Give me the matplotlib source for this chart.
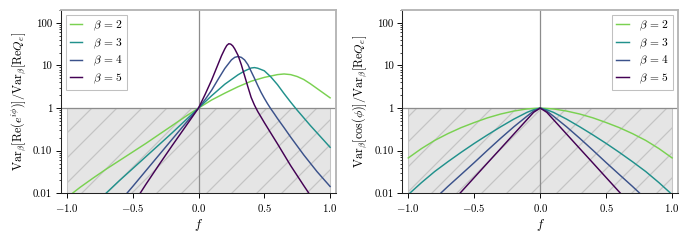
import matplotlib
matplotlib.use("Agg")
import matplotlib.pyplot as plt
from matplotlib.ticker import FixedLocator, FixedFormatter

# values
betas = [2, 3, 4, 5]
line_colors = ["#7ad151", "#21918c", "#3b528b", "#440154"]

# left panel: Var[Re(e^{i phi})] / Var[Re Q_e]
f_re_b2 = [-1.0, -0.9, -0.8, -0.7, -0.6, -0.5, -0.4, -0.3, -0.2, -0.1, 0.0,
           0.1, 0.2, 0.3, 0.4, 0.5, 0.6, 0.65, 0.7, 0.75, 0.8, 0.85, 0.9, 0.95, 1.0]
re_b2 = [0.00794, 0.0138, 0.0229, 0.0372, 0.0589, 0.0933, 0.148, 0.240, 0.389, 0.631, 1.0,
         1.549, 2.239, 3.162, 4.266, 5.248, 6.095, 6.310, 6.095, 5.495, 4.677, 3.715, 2.884, 2.239, 1.738]

f_re_b3 = [-0.8, -0.7, -0.6, -0.5, -0.4, -0.3, -0.2, -0.1, 0.0,
           0.1, 0.2, 0.3, 0.35, 0.4, 0.425, 0.45, 0.5, 0.55, 0.6, 0.65, 0.7, 0.75, 0.8, 0.85, 0.9, 0.95, 1.0]
re_b3 = [0.00537, 0.01023, 0.0200, 0.0380, 0.0724, 0.138, 0.263, 0.513, 1.0,
         1.950, 3.631, 6.026, 7.413, 8.710, 8.913, 8.610, 7.499, 5.370, 3.548, 2.188, 1.380, 0.891, 0.589, 0.389, 0.263, 0.178, 0.120]

f_re_b4 = [-0.6, -0.55, -0.5, -0.4, -0.3, -0.2, -0.1, 0.0,
           0.05, 0.1, 0.15, 0.2, 0.25, 0.275, 0.3, 0.325, 0.35, 0.375, 0.4, 0.425, 0.45, 0.475,
           0.5, 0.525, 0.55, 0.575, 0.6, 0.65, 0.7, 0.8, 0.9, 1.0]
re_b4 = [0.00631, 0.00955, 0.01445, 0.0339, 0.0794, 0.186, 0.432, 1.0,
         1.585, 2.630, 4.786, 8.511, 13.49, 15.49, 16.22, 15.49, 13.49, 10.47, 7.244, 5.012, 3.388, 2.344,
         1.698, 1.259, 0.955, 0.741, 0.569, 0.347, 0.209, 0.0794, 0.0324, 0.01445]

f_re_b5 = [-0.5, -0.45, -0.4, -0.3, -0.2, -0.1, 0.0,
           0.05, 0.1, 0.15, 0.175, 0.2, 0.215, 0.23, 0.245, 0.26, 0.275, 0.3, 0.325, 0.35, 0.375,
           0.4, 0.425, 0.45, 0.475, 0.5, 0.55, 0.6, 0.7, 0.8, 0.85, 0.9]
re_b5 = [0.00525, 0.00933, 0.0162, 0.0468, 0.132, 0.363, 1.0,
         2.089, 4.571, 10.96, 16.98, 24.55, 29.51, 32.36, 31.62, 28.84, 24.55, 17.38, 10.47, 5.754, 3.162,
         1.778, 1.175, 0.832, 0.617, 0.457, 0.257, 0.145, 0.0447, 0.0151, 0.00891, 0.00525]

# right panel: Var[cos(phi)] / Var[Re Q_e]
f_cos_b2 = [-1.0, -0.9, -0.8, -0.7, -0.6, -0.5, -0.4, -0.3, -0.2, -0.1, 0.0,
            0.1, 0.2, 0.3, 0.4, 0.5, 0.6, 0.7, 0.8, 0.9, 1.0]
cos_b2 = [0.0676, 0.112, 0.174, 0.251, 0.347, 0.457, 0.589, 0.724, 0.851, 0.955, 1.0,
          0.955, 0.851, 0.724, 0.589, 0.457, 0.347, 0.251, 0.174, 0.112, 0.0676]

f_cos_b3 = [-1.0, -0.9, -0.8, -0.7, -0.6, -0.5, -0.4, -0.3, -0.2, -0.1, -0.05, 0.0,
            0.05, 0.1, 0.2, 0.3, 0.4, 0.5, 0.6, 0.7, 0.8, 0.9, 1.0]
cos_b3 = [0.00933, 0.0178, 0.0324, 0.0550, 0.0912, 0.148, 0.234, 0.363, 0.550, 0.794, 0.912, 1.0,
          0.912, 0.794, 0.550, 0.363, 0.234, 0.148, 0.0912, 0.0550, 0.0324, 0.0178, 0.00933]

f_cos_b4 = [-0.8, -0.7, -0.6, -0.5, -0.4, -0.3, -0.2, -0.1, -0.05, 0.0,
            0.05, 0.1, 0.2, 0.3, 0.4, 0.5, 0.6, 0.7, 0.8]
cos_b4 = [0.00741, 0.01445, 0.0275, 0.0525, 0.102, 0.195, 0.363, 0.646, 0.851, 1.0,
          0.851, 0.646, 0.363, 0.195, 0.102, 0.0525, 0.0275, 0.01445, 0.00741]

f_cos_b5 = [-0.7, -0.6, -0.5, -0.4, -0.3, -0.2, -0.1, -0.05, 0.0,
            0.05, 0.1, 0.2, 0.3, 0.4, 0.5, 0.6, 0.7]
cos_b5 = [0.0049, 0.0107, 0.0234, 0.0513, 0.112, 0.245, 0.537, 0.794, 1.0,
          0.794, 0.537, 0.245, 0.112, 0.0513, 0.0234, 0.0107, 0.0049]

x_ticks = [-1.0, -0.5, 0.0, 0.5, 1.0]
x_tick_labels = ["$-1.0$", "$-0.5$", "$0.0$", "$0.5$", "$1.0$"]
y_ticks = [0.01, 0.1, 1, 10, 100]
y_tick_labels = ["0.01", "0.10", "1", "10", "100"]

ylabels = [r"$\mathrm{Var}_\beta[\mathrm{Re}(e^{i\phi})]/\mathrm{Var}_\beta[\mathrm{Re}Q_e]$",
           r"$\mathrm{Var}_\beta[\cos(\phi)]/\mathrm{Var}_\beta[\mathrm{Re}Q_e]$"]

plt.rcParams.update({
    "font.family": "serif",
    "font.serif": ["cmr10"],
    "mathtext.fontset": "cm",
    "axes.formatter.use_mathtext": True,
    "font.size": 5,
    "hatch.color": "#c4c4c4",
    "hatch.linewidth": 0.6,
})

dpi = 150
fig = plt.figure(figsize=(690 / dpi, 240 / dpi), dpi=dpi)
ax_re = fig.add_axes([0.0884, 0.1946, 0.3986, 0.7637])
ax_cos = fig.add_axes([0.5831, 0.1946, 0.3996, 0.7637])

panels = [
    (ax_re, [(f_re_b2, re_b2), (f_re_b3, re_b3), (f_re_b4, re_b4), (f_re_b5, re_b5)], "upper left"),
    (ax_cos, [(f_cos_b2, cos_b2), (f_cos_b3, cos_b3), (f_cos_b4, cos_b4), (f_cos_b5, cos_b5)], "upper right"),
]

for i, (ax, curves, loc) in enumerate(panels):
    # shaded "below 1" region
    ax.fill_between([-1.0, 1.0], 0.01, 1.0, facecolor="#e5e5e5", edgecolor="#c4c4c4",
                    hatch="//", linewidth=0.5, zorder=0)
    ax.axhline(1.0, color="#8c8c8c", lw=0.6, zorder=1)
    ax.axvline(0.0, color="#8c8c8c", lw=0.6, zorder=1)

    for (fx, vals), b, c in zip(curves, betas, line_colors):
        ax.plot(fx, vals, color=c, lw=0.7, label=r"$\beta\,=\,%d$" % b, zorder=3)

    ax.set_yscale("log")
    ax.set_xlim(-1.045, 1.045)
    ax.set_ylim(0.01, 200)
    ax.xaxis.set_major_locator(FixedLocator(x_ticks))
    ax.xaxis.set_major_formatter(FixedFormatter(x_tick_labels))
    ax.yaxis.set_major_locator(FixedLocator(y_ticks))
    ax.yaxis.set_major_formatter(FixedFormatter(y_tick_labels))
    ax.tick_params(which="major", length=2.2, width=0.45, pad=2, labelsize=5.2)
    ax.tick_params(which="minor", length=1.2, width=0.35)

    for side in ["left", "bottom"]:
        ax.spines[side].set_linewidth(0.5)
        ax.spines[side].set_color("#222222")
    for side in ["top", "right"]:
        ax.spines[side].set_linewidth(0.9)
        ax.spines[side].set_color("#b5b5b5")

    ax.set_xlabel("$f$", fontsize=6.2, labelpad=1.5)
    ax.set_ylabel(ylabels[i], fontsize=5.8, labelpad=2)

    leg = ax.legend(loc=loc, fontsize=5.5, frameon=True, fancybox=False, framealpha=1,
                    edgecolor="#c0c0c0", handlelength=1.1, handletextpad=0.9,
                    labelspacing=0.3, borderaxespad=0.4, borderpad=0.35)
    leg.get_frame().set_linewidth(0.5)

fig.savefig("out.png", dpi=dpi)
